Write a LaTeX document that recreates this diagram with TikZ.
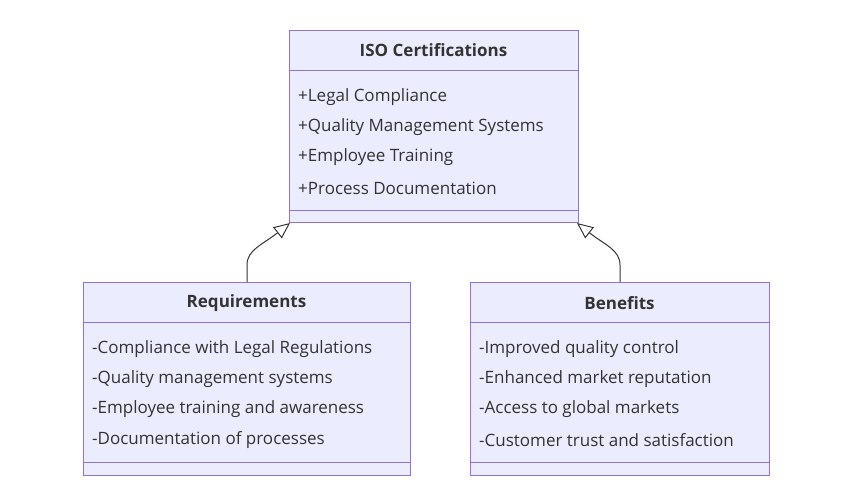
\documentclass[tikz,border=0pt]{standalone}
\usepackage{fontspec}
\setmainfont{Open Sans}
\usetikzlibrary{arrows.meta}
\definecolor{cfill}{HTML}{ECECFF}
\definecolor{cline}{HTML}{9370DB}
\definecolor{ctext}{HTML}{333333}
\begin{document}
\begin{tikzpicture}[x=1pt,y=-1pt,
  cls/.style={draw=cline,fill=cfill,line width=1pt,inner sep=0,anchor=north west},
  sep/.style={draw=cline,line width=1pt},
  ttl/.style={font=\fontsize{17}{20}\selectfont\bfseries,text=ctext},
  attr/.style={font=\fontsize{17}{20}\selectfont,text=ctext,anchor=west,inner sep=0},
  inh/.style={draw=ctext,line width=1pt,-{Triangle[open,length=16pt,width=14pt,fill=white]}}]
\useasboundingbox (0,0) rectangle (863,498);
% ISO
\node[cls,minimum width=289pt,minimum height=192pt] (iso) at (289,30) {};
\draw[sep] (289,70) -- (578,70) (289,210) -- (578,210);
\node[ttl] (isot) at (433.5,50) {ISO Certifications};
\node[attr] (i1) at (298,97) {+Legal Compliance};
\node[attr] (i2) at (298,127) {+Quality Management Systems};
\node[attr] (i3) at (298,157) {+Employee Training};
\node[attr] (i4) at (298,188) {+Process Documentation};
% Requirements
\node[cls,minimum width=327pt,minimum height=193pt] (req) at (83,282) {};
\draw[sep] (83,322) -- (410,322) (83,462) -- (410,462);
\node[ttl] (reqt) at (246.5,303) {Requirements};
\node[attr] (r1) at (92,349) {-Compliance with Legal Regulations};
\node[attr] (r2) at (92,379) {-Quality management systems};
\node[attr] (r3) at (92,409) {-Employee training and awareness};
\node[attr] (r4) at (92,440) {-Documentation of processes};
% Benefits
\node[cls,minimum width=299pt,minimum height=193pt] (ben) at (470,282) {};
\draw[sep] (470,322) -- (769,322) (470,462) -- (769,462);
\node[ttl] (bent) at (619.5,303) {Benefits};
\node[attr] (b1) at (479,349) {-Improved quality control};
\node[attr] (b2) at (479,379) {-Enhanced market reputation};
\node[attr] (b3) at (479,409) {-Access to global markets};
\node[attr] (b4) at (479,440) {-Customer trust and satisfaction};
% inheritance
\coordinate (tl) at (290,223);
\coordinate (tr) at (577,223);
\draw[inh] (req.north -| 247,0) -- (247,265) .. controls (247,250) and (262,245) .. (tl);
\draw[inh] (ben.north -| 620,0) -- (620,265) .. controls (620,250) and (605,245) .. (tr);
\end{tikzpicture}
\end{document}
